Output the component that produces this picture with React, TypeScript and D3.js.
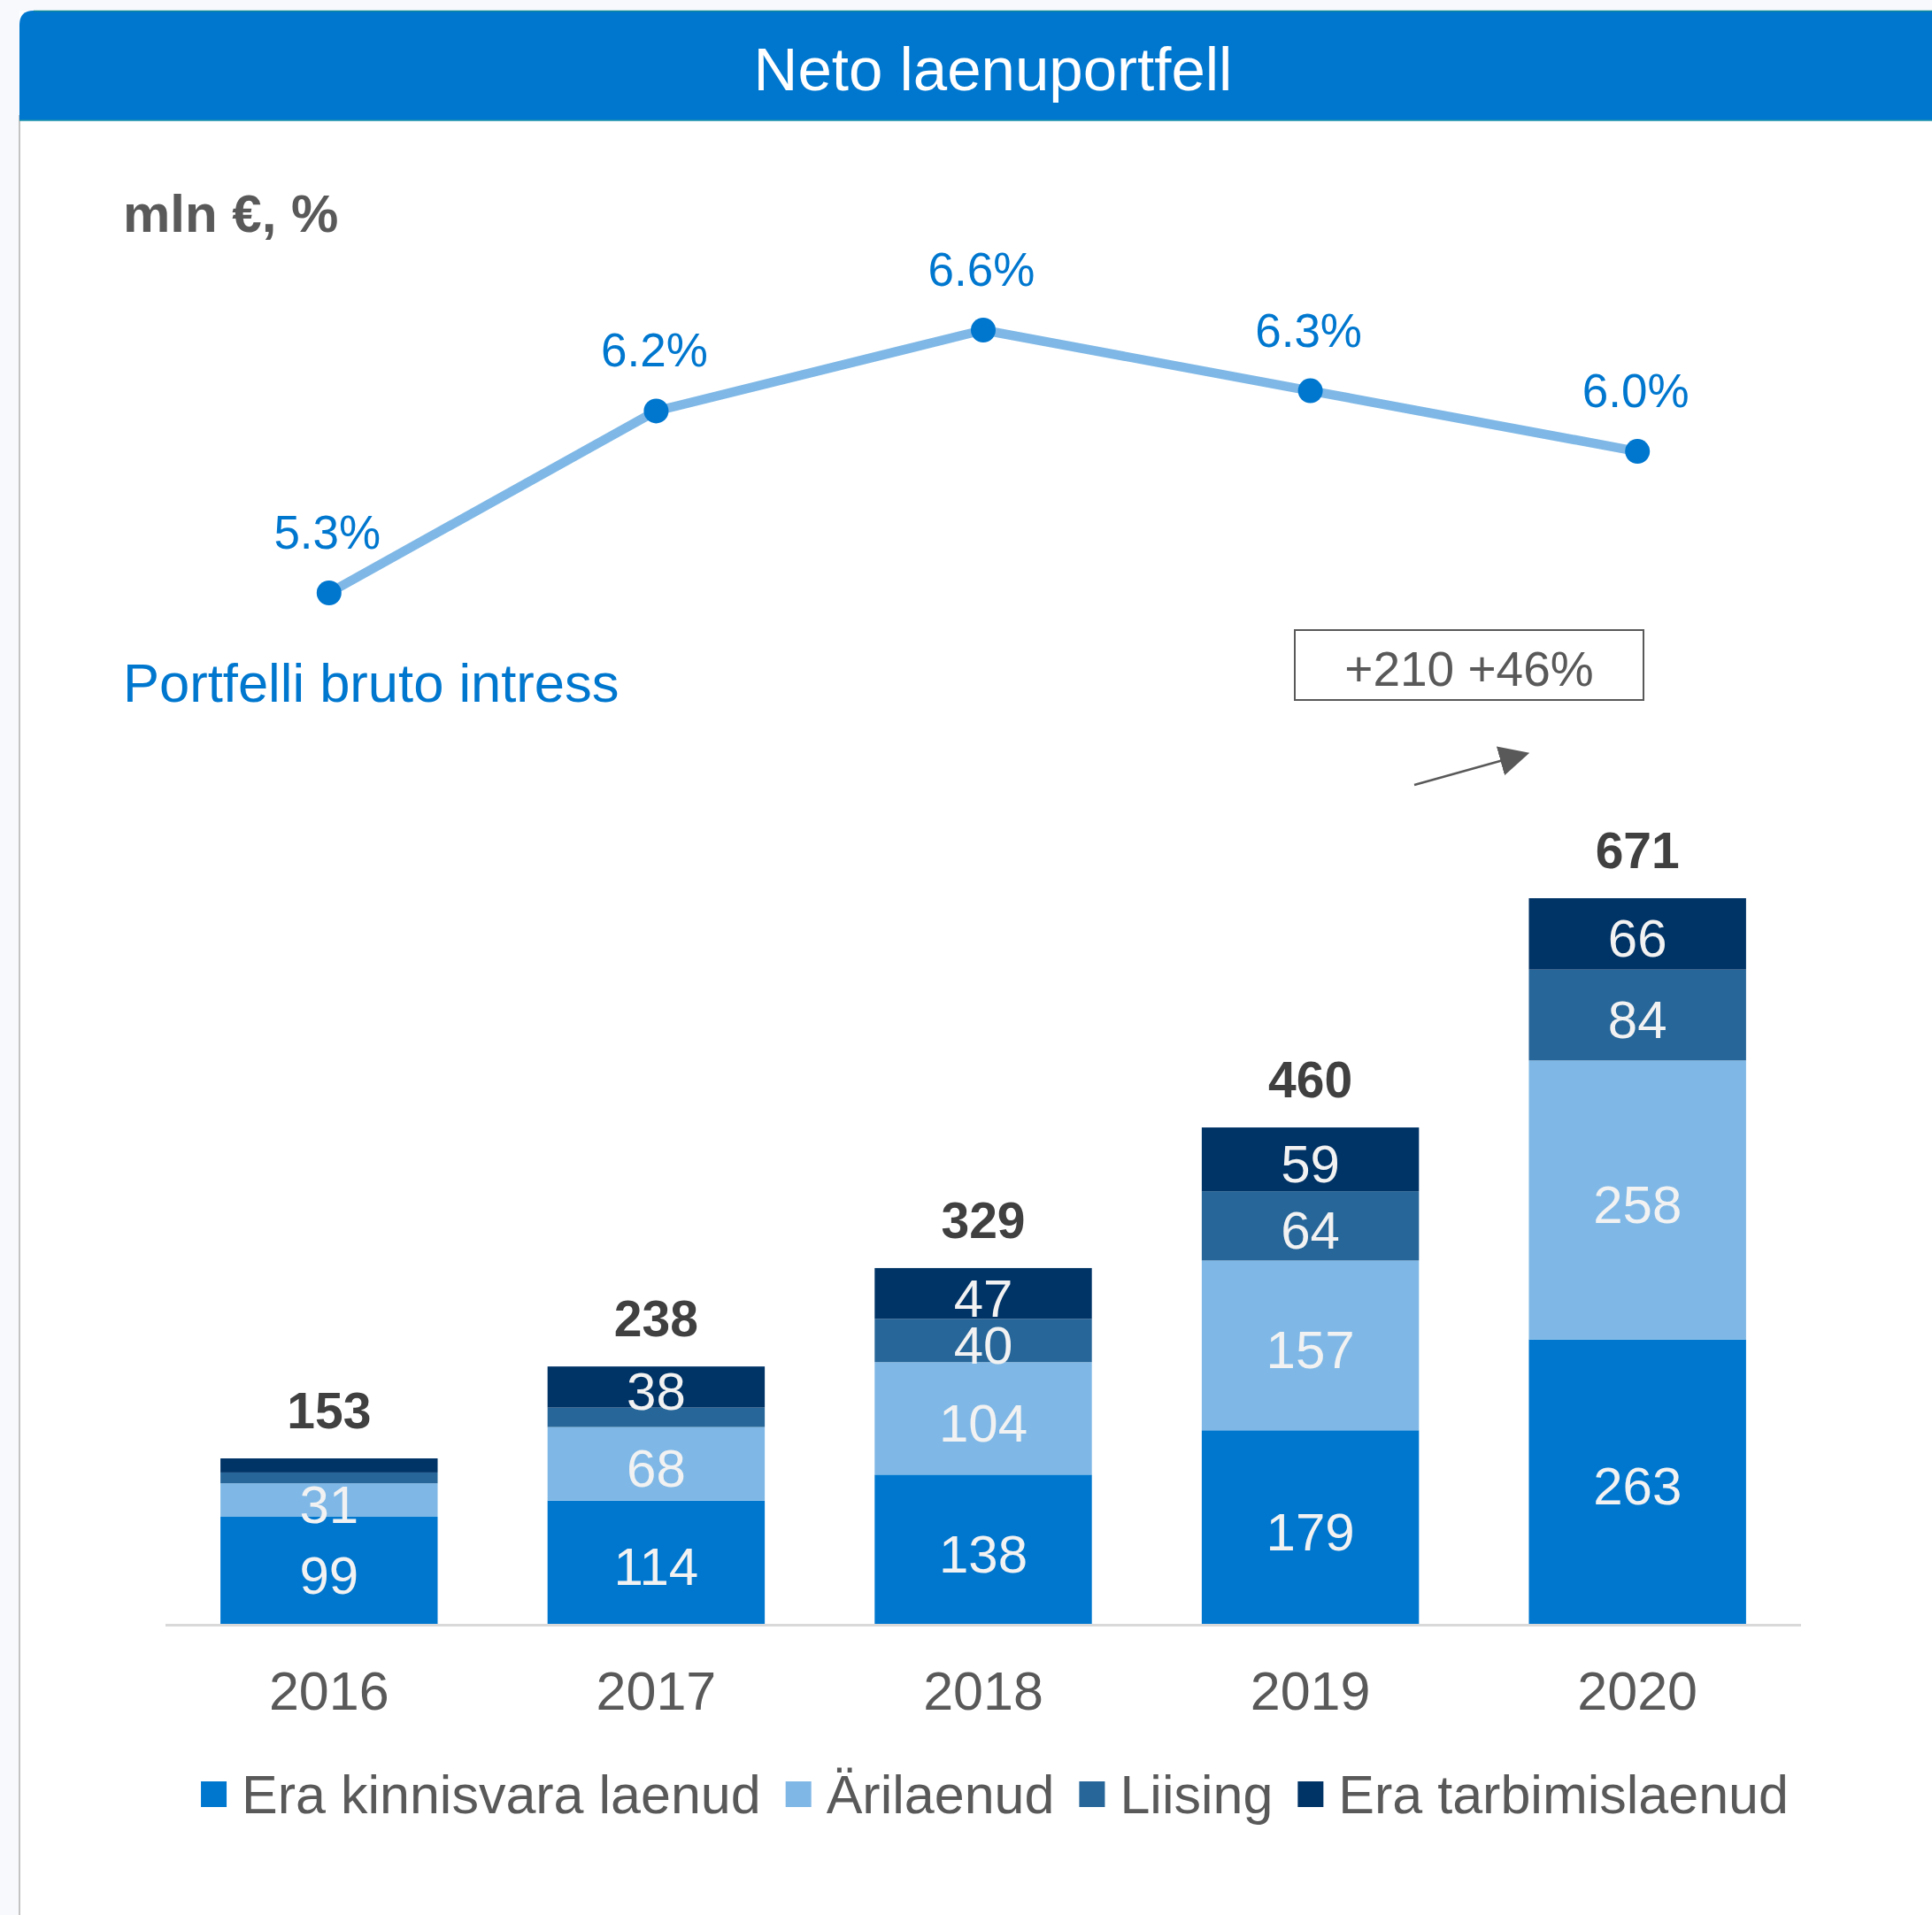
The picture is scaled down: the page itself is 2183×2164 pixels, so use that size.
import React, { useEffect, useRef } from "react";
import * as d3 from "d3";

const years = ["2016", "2017", "2018", "2019", "2020"];
const eraKinnisvara = [99, 114, 138, 179, 263];
const arilaenud = [31, 68, 104, 157, 258];
const liising = [10, 18, 40, 64, 84];
const tarbimis = [13, 38, 47, 59, 66];
const totals = [153, 238, 329, 460, 671];
const grossInterest = [5.3, 6.2, 6.6, 6.3, 6.0];
const seriesNames = ["Era kinnisvara laenud", "Ärilaenud", "Liising", "Era tarbimislaenud"];
const seriesColors = ["#0077CF", "#7FB8E6", "#266699", "#003366"];
const title = "Neto laenuportfell";
const unitLabel = "mln €, %";
const lineLabel = "Portfelli bruto intress";
const growthLabel = "+210 +46%";

const W = 2183;
const H = 2164;
const FONT = "'Liberation Sans', Arial, sans-serif";

export default function App() {
  const ref = useRef<SVGSVGElement | null>(null);

  useEffect(() => {
    const svg = d3.select(ref.current);
    svg.selectAll("*").remove();

    // background & card
    svg.append("rect").attr("width", W).attr("height", H).attr("fill", "#F7F9FC");
    svg.append("rect").attr("x", 22).attr("y", 12).attr("width", W - 22).attr("height", H - 12).attr("fill", "#FFFFFF");
    svg.append("line").attr("x1", 22).attr("x2", 22).attr("y1", 130).attr("y2", H).attr("stroke", "#C4C4C4").attr("stroke-width", 2);
    const r = 16;
    svg.append("path")
      .attr("d", `M22,136 L22,${12 + r} Q22,12 ${22 + r},12 L${W},12 L${W},136 Z`)
      .attr("fill", "#0077CF");
    svg.append("line").attr("x1", 22 + r).attr("x2", W).attr("y1", 12.5).attr("y2", 12.5).attr("stroke", "#0E8A96").attr("stroke-width", 1.5);
    svg.append("line").attr("x1", 22).attr("x2", W).attr("y1", 136).attr("y2", 136).attr("stroke", "#1890A8").attr("stroke-width", 1.5);

    svg.append("text").attr("x", 1122).attr("y", 102).attr("text-anchor", "middle")
      .attr("font-family", FONT).attr("font-size", 69).attr("fill", "#FFFFFF").text(title);

    svg.append("text").attr("x", 139).attr("y", 262)
      .attr("font-family", FONT).attr("font-size", 60).attr("font-weight", "bold")
      .attr("fill", "#595959").text(unitLabel);

    // scales
    const x = d3.scaleBand<string>().domain(years).range([187, 2035]).paddingInner(0.336).paddingOuter(0.168);
    const y = d3.scaleLinear().domain([0, 671]).range([1835, 1015]);
    const yl = d3.scaleLinear().domain([5.3, 6.6]).range([670, 373]);
    const cx = (yr: string) => (x(yr) as number) + x.bandwidth() / 2;

    // line
    const lineGen = d3.line<number>().x((_, i) => cx(years[i])).y((d) => yl(d));
    svg.append("path").attr("d", lineGen(grossInterest) as string).attr("fill", "none")
      .attr("stroke", "#7FB8E6").attr("stroke-width", 10.5).attr("stroke-linejoin", "round");
    svg.selectAll(".pt").data(grossInterest).enter().append("circle")
      .attr("cx", (_, i) => cx(years[i])).attr("cy", (d) => yl(d)).attr("r", 14).attr("fill", "#0077CF");
    svg.selectAll(".pl").data(grossInterest).enter().append("text")
      .attr("x", (_, i) => cx(years[i]) - 2).attr("y", (d) => yl(d) - 50)
      .attr("text-anchor", "middle").attr("font-family", FONT).attr("font-size", 53).attr("fill", "#0077CF")
      .text((d) => d.toFixed(1) + "%");

    svg.append("text").attr("x", 139).attr("y", 793)
      .attr("font-family", FONT).attr("font-size", 61.5).attr("fill", "#0077CF").text(lineLabel);

    // growth box and arrow
    svg.append("rect").attr("x", 1463).attr("y", 712).attr("width", 394).attr("height", 79)
      .attr("fill", "none").attr("stroke", "#595959").attr("stroke-width", 2);
    svg.append("text").attr("x", 1660).attr("y", 775).attr("text-anchor", "middle")
      .attr("font-family", FONT).attr("font-size", 55).attr("fill", "#595959").text(growthLabel);
    const defs = svg.append("defs");
    defs.append("marker").attr("id", "arr").attr("viewBox", "0 0 10 10").attr("refX", 2).attr("refY", 5)
      .attr("markerWidth", 34).attr("markerHeight", 34).attr("markerUnits", "userSpaceOnUse")
      .attr("orient", "auto")
      .append("path").attr("d", "M0,0 L10,5 L0,10 Z").attr("fill", "#595959");
    svg.append("line").attr("x1", 1598).attr("y1", 887).attr("x2", 1702).attr("y2", 858)
      .attr("stroke", "#595959").attr("stroke-width", 2.5).attr("marker-end", "url(#arr)");

    // stacked bars
    const rows = years.map((yr, i) => ({ year: yr, s0: eraKinnisvara[i], s1: arilaenud[i], s2: liising[i], s3: tarbimis[i] }));
    const stack = d3.stack<any>().keys(["s0", "s1", "s2", "s3"]);
    const stacked = stack(rows);
    stacked.forEach((layer, k) => {
      const g = svg.append("g");
      g.selectAll("rect").data(layer).enter().append("rect")
        .attr("x", (d: any) => x(d.data.year) as number)
        .attr("width", x.bandwidth())
        .attr("y", (d: any) => y(d[1]))
        .attr("height", (d: any) => y(d[0]) - y(d[1]))
        .attr("fill", seriesColors[k]);
    });
    stacked.forEach((layer) => {
      const g = svg.append("g");
      g.selectAll("text").data(layer.filter((d: any) => d[1] - d[0] >= 25)).enter().append("text")
        .attr("x", (d: any) => cx(d.data.year))
        .attr("y", (d: any) => (y(d[0]) + y(d[1])) / 2 + 26)
        .attr("text-anchor", "middle").attr("font-family", FONT).attr("font-size", 60).attr("fill", "#F2F2F2")
        .text((d: any) => String(d[1] - d[0]));
    });

    // totals
    svg.selectAll(".tot").data(totals).enter().append("text")
      .attr("x", (_, i) => cx(years[i])).attr("y", (d, i) => y(stacked[3][i][1]) - 34)
      .attr("text-anchor", "middle").attr("font-family", FONT).attr("font-size", 57).attr("font-weight", "bold")
      .attr("fill", "#404040").text((d) => String(d));

    // axis
    svg.append("line").attr("x1", x.range()[0]).attr("x2", x.range()[1]).attr("y1", 1836.5).attr("y2", 1836.5)
      .attr("stroke", "#D9D9D9").attr("stroke-width", 3);
    svg.selectAll(".yr").data(years).enter().append("text")
      .attr("x", (d) => cx(d)).attr("y", 1932).attr("text-anchor", "middle")
      .attr("font-family", FONT).attr("font-size", 61).attr("fill", "#595959").text((d) => d);

    // legend
    const lg = svg.append("g");
    const sq = 29, gapAfterSq = 17, gapItems = 28;
    let cursor = 0;
    const items: { x: number; t: any; s: any; w: number }[] = [];
    seriesNames.forEach((name, k) => {
      const s = lg.append("rect").attr("y", 2013).attr("width", sq).attr("height", sq).attr("fill", seriesColors[k]);
      const t = lg.append("text").attr("y", 2049).attr("font-family", FONT).attr("font-size", 61).attr("fill", "#595959").text(name);
      const w = (t.node() as SVGTextElement).getComputedTextLength();
      items.push({ x: cursor, t, s, w });
      cursor += sq + gapAfterSq + w + gapItems;
    });
    const totalW = cursor - gapItems;
    const start = 1124 - totalW / 2;
    items.forEach((it) => {
      it.s.attr("x", start + it.x);
      it.t.attr("x", start + it.x + sq + gapAfterSq);
    });
  }, []);

  return (
    <svg ref={ref} width={W} height={H} style={{ position: "absolute", left: 0, top: 0, display: "block" }} />
  );
}
